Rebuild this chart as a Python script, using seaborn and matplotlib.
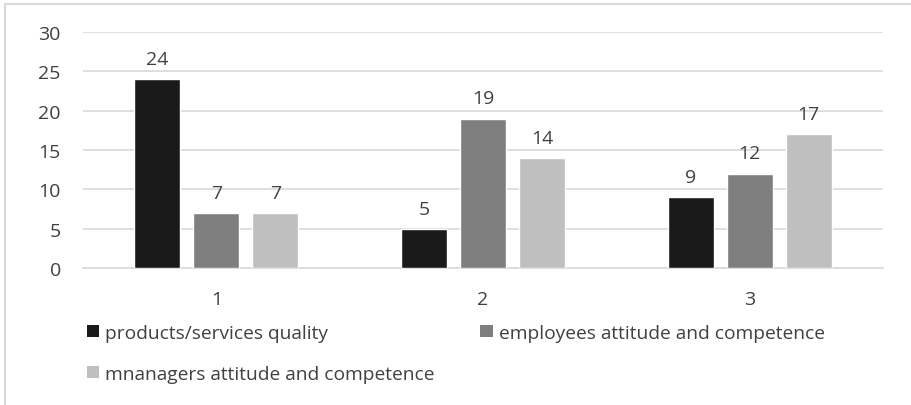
import matplotlib
matplotlib.use("Agg")
import matplotlib.pyplot as plt
from matplotlib.patches import Rectangle
import seaborn as sns
import pandas as pd

categories = ["1", "2", "3"]
series_names = [
    "products/services quality",
    "employees attitude and competence",
    "mnanagers attitude and competence",
]
products_quality = [24, 5, 9]
employees_attitude = [7, 19, 12]
managers_attitude = [7, 14, 17]
y_ticks = [0, 5, 10, 15, 20, 25, 30]

colors = ["#1a1a1a", "#7f7f7f", "#bfbfbf"]
text_color = "#404040"
grid_color = "#d9d9d9"

sns.set_theme(style="white")
plt.rcParams["font.family"] = ["Open Sans", "DejaVu Sans"]

rows = []
for name, vals in zip(series_names, [products_quality, employees_attitude, managers_attitude]):
    for cat, v in zip(categories, vals):
        rows.append({"category": cat, "series": name, "value": v})
df = pd.DataFrame(rows)

fig = plt.figure(figsize=(9.12, 4.06), dpi=100)
ax = fig.add_axes([83 / 912, 1 - 269 / 406, 800 / 912, 236 / 406])

sns.barplot(
    data=df, x="category", y="value", hue="series",
    order=categories, hue_order=series_names,
    palette=colors, width=0.663, gap=0.22,
    saturation=1, ax=ax, legend=False, zorder=3,
)

ax.set_ylim(0, 30)
ax.set_xlim(-0.5, 2.5)
ax.set_yticks(y_ticks)
ax.yaxis.grid(True, color=grid_color, linewidth=1.2, zorder=0)
ax.set_axisbelow(True)
for s in ["top", "right", "left"]:
    ax.spines[s].set_visible(False)
ax.spines["bottom"].set_color(grid_color)
ax.spines["bottom"].set_linewidth(1.2)
ax.set_xlabel("")
ax.set_ylabel("")
ax.tick_params(axis="both", length=0, labelsize=14, colors=text_color)
ax.tick_params(axis="x", pad=16)
ax.tick_params(axis="y", pad=16)

for container in ax.containers:
    ax.bar_label(container, fmt="%g", padding=8, fontsize=14, color=text_color)

# legend filled column-wise: first column holds items 1 and 3, second holds item 2
handles = [Rectangle((0, 0), 1, 1, facecolor=c, edgecolor="none") for c in colors]
order = [0, 2, 1]
fig.legend(
    [handles[i] for i in order], [series_names[i] for i in order],
    ncol=2, loc="upper left",
    bbox_to_anchor=(79 / 912, 1 - 317 / 406),
    frameon=False, fontsize=13.8, labelcolor=text_color,
    handlelength=0.65, handleheight=0.65, handletextpad=0.3,
    columnspacing=2.4, labelspacing=1.2, borderaxespad=0,
)

# light outer frame of the chart area
fig.patches.append(Rectangle((5 / 912, -0.1), 1.2, 1 - 5 / 406 + 0.1,
                             transform=fig.transFigure, fill=False,
                             edgecolor=grid_color, linewidth=1.5))

fig.savefig("out.png", dpi=100)
